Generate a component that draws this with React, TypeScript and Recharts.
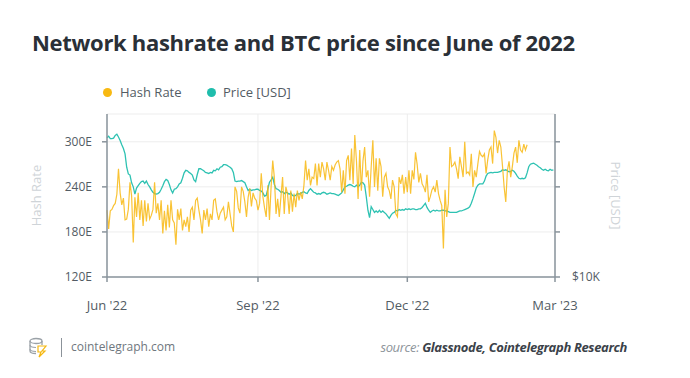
import { LineChart, Line, XAxis, YAxis, CartesianGrid, Label } from 'recharts';

// daily values, day 0 = 1 Jun 2022
const hashRate = [
  209, 184, 208, 210, 215, 218, 230, 264, 232, 216,
  225, 196, 197, 210, 246, 228, 166, 226, 200, 232,
  196, 222, 188, 222, 194, 218, 197, 202, 210, 246,
  205, 218, 196, 222, 178, 208, 182, 216, 186, 222,
  196, 192, 163, 210, 196, 211, 182, 196, 187, 200,
  180, 209, 213, 196, 222, 225, 209, 196, 178, 209,
  196, 211, 187, 204, 196, 222, 224, 207, 196, 205,
  209, 213, 196, 200, 220, 204, 188, 180, 240, 234,
  212, 205, 240, 234, 220, 200, 226, 238, 214, 232,
  225, 222, 209, 218, 258, 227, 212, 200, 242, 196,
  240, 275, 252, 204, 224, 200, 227, 253, 204, 240,
  231, 204, 235, 207, 231, 213, 235, 222, 233, 224,
  242, 275, 249, 264, 242, 253, 251, 271, 242, 271,
  253, 273, 264, 249, 273, 262, 249, 267, 262, 269,
  273, 275, 264, 233, 262, 231, 275, 282, 249, 291,
  244, 309, 275, 224, 289, 235, 275, 293, 253, 262,
  227, 267, 302, 240, 278, 235, 278, 267, 227, 253,
  258, 240, 235, 224, 249, 240, 204, 200, 253, 244,
  256, 231, 253, 233, 262, 231, 262, 250, 286, 270,
  246, 258, 244, 240, 233, 256, 220, 227, 236, 240,
  233, 249, 231, 222, 215, 158, 236, 200, 218, 293,
  267, 269, 273, 264, 251, 280, 267, 253, 300, 258,
  260, 256, 284, 240, 262, 253, 271, 287, 282, 280,
  284, 258, 276, 289, 293, 271, 315, 306, 285, 302,
  293, 268, 240, 220, 262, 274, 253, 267, 285, 293,
  272, 302, 289, 286, 297, 289, 296,
];

const price = [
  31000, 31400, 30800, 30800, 30900, 31600, 31900, 31200, 30300, 29300,
  28400, 27200, 24400, 23100, 22900, 21500, 20800, 19600, 20600, 21000,
  21400, 21700, 21800, 21400, 21800, 21200, 20800, 20300, 19900, 19700,
  19600, 19700, 19900, 20400, 21000, 21700, 22100, 21900, 21200, 20300,
  19800, 20400, 20500, 20800, 21300, 21500, 22300, 23300, 23800, 23700,
  23400, 23200, 22900, 22000, 21700, 23000, 24100, 24100, 23900, 23700,
  23400, 23300, 23200, 23400, 23300, 23800, 23700, 24100, 23900, 24400,
  24500, 24900, 24900, 24800, 24600, 24400, 24100, 23400, 21800, 21700,
  21800, 21800, 21900, 21700, 21500, 20800, 20200, 20400, 20200, 20300,
  20300, 20400, 20400, 20200, 20100, 19800, 19300, 19400, 20400, 21600,
  22000, 22500, 21200, 20500, 20400, 20200, 19900, 20000, 19700, 19900,
  19800, 19600, 19800, 19400, 19300, 19400, 19700, 19600, 19700, 19900,
  20000, 19800, 19700, 20200, 20500, 20200, 19900, 19800, 19600, 19700,
  19600, 19800, 19900, 19800, 19600, 19700, 19800, 19700, 19700, 19600,
  19500, 19400, 19600, 19800, 20300, 20800, 20900, 21100, 21200, 21100,
  20900, 20800, 21100, 20800, 21100, 21600, 21500, 21100, 19200, 17200,
  16200, 17700, 17300, 16900, 17100, 16900, 17200, 16900, 17100, 16900,
  16700, 16400, 16100, 16500, 16800, 16900, 17200, 17100, 17300, 17200,
  17300, 17200, 17400, 17300, 17400, 17300, 17400, 17400, 17300, 17300,
  17400, 17400, 17600, 17900, 18200, 17600, 17200, 16900, 17100, 17200,
  17100, 17200, 17100, 17100, 17200, 17200, 17100, 17100, 17000, 16900,
  16900, 16900, 16900, 16900, 17000, 17100, 17100, 17200, 17300, 17400,
  17500, 17700, 18200, 18900, 19700, 20600, 21100, 21300, 21300, 21300,
  21800, 22700, 23200, 23300, 23400, 23300, 23400, 23400, 23400, 23500,
  23600, 23900, 23800, 23900, 23700, 23500, 23600, 23800, 23600, 23200,
  22700, 22300, 22200, 22300, 22200, 22400, 23300, 24500, 25000, 25100,
  25200, 25000, 24800, 24500, 24300, 24000, 23800, 24000, 23800, 23700,
  24000, 23800, 23900,
];

const xTicks = [0, 92, 183, 273];
const xTickLabels = ["Jun '22", "Sep '22", "Dec '22", "Mar '23"];
const hashTicks = [120, 180, 240, 300];
const priceTicks = [10000, 14422, 20801, 30000];

const chartData = price.map((p, i) => ({ day: i, hash: hashRate[i], price: p }));

const AXIS = '#8a949c';
const TICK = { fill: '#535c64', fontSize: 12, fontFamily: 'Open Sans' };

const Logo = () => (
  <svg width="20" height="22" viewBox="0 0 20 22" style={{ position: 'absolute', left: 28, top: 336 }}>
    <ellipse cx="8" cy="5" rx="6" ry="2.5" fill="none" stroke="#9aa1a7" strokeWidth="1.3" />
    <path d="M2 5 v10 c0 1.4 2.7 2.5 6 2.5 M14 5 v4" fill="none" stroke="#9aa1a7" strokeWidth="1.3" />
    <path d="M2 9 c0 1.4 2.7 2.5 6 2.5 M2 13 c0 1.4 2.7 2.5 6 2.5" fill="none" stroke="#9aa1a7" strokeWidth="1.1" />
    <path d="M10 10 h8 l-4 5 h3 l-6 6 l2 -5 h-3 z" fill="none" stroke="#f5b70f" strokeWidth="1.2" />
  </svg>
);

export default function App() {
  return (
    <div
      style={{
        position: 'absolute',
        left: 0,
        top: 0,
        width: 690,
        height: 378,
        background: '#fff',
        fontFamily: '"Open Sans", sans-serif',
        overflow: 'hidden',
      }}
    >
      <div
        style={{
          position: 'absolute',
          left: 32,
          top: 31,
          fontSize: 22,
          lineHeight: '22px',
          fontWeight: 700,
          letterSpacing: -0.3,
          color: '#2a3037',
          whiteSpace: 'nowrap',
        }}
      >
        Network hashrate and BTC price since June of 2022
      </div>

      <span style={{ position: 'absolute', left: 102.5, top: 87.5, width: 9, height: 9, borderRadius: '50%', background: '#f8b912' }} />
      <span style={{ position: 'absolute', left: 120, top: 83, fontSize: 13, lineHeight: '18px', color: '#535c64' }}>Hash Rate</span>
      <span style={{ position: 'absolute', left: 206.5, top: 87.5, width: 9, height: 9, borderRadius: '50%', background: '#1fbdac' }} />
      <span style={{ position: 'absolute', left: 223, top: 83, fontSize: 13, lineHeight: '18px', color: '#535c64' }}>Price [USD]</span>

      <div style={{ position: 'absolute', left: 0, top: 0 }}>
        <LineChart width={690} height={378} data={chartData} margin={{ top: 114, right: 0, bottom: 0, left: 0 }}>
          <CartesianGrid yAxisId="hash" xAxisId="x" stroke="#ededed" strokeWidth={1} />
          <XAxis
            xAxisId="x"
            dataKey="day"
            type="number"
            domain={[0, 273]}
            ticks={xTicks}
            tickFormatter={(v: number) => xTickLabels[xTicks.indexOf(v)]}
            height={101}
            stroke={AXIS}
            strokeWidth={1.5}
            tickSize={5}
            tickMargin={19}
            tick={{ ...TICK, fontSize: 13 }}
            interval={0}
          />
          <YAxis
            yAxisId="hash"
            domain={[120, 337]}
            ticks={hashTicks}
            tickFormatter={(v: number) => `${v}E`}
            width={107}
            allowDataOverflow
            stroke={AXIS}
            strokeWidth={1.5}
            tickSize={5}
            tickMargin={10}
            tick={TICK}
            interval={0}
          >
            <Label value="Hash Rate" angle={-90} position="center" dx={-17} fill="#cfd4d8" fontSize={13} fontFamily="Open Sans" />
          </YAxis>
          <YAxis
            yAxisId="price"
            orientation="right"
            scale="log"
            domain={[10000, 37600]}
            ticks={priceTicks}
            tickFormatter={(v: number) => (v === 10000 ? '$10K' : '')}
            width={135}
            allowDataOverflow
            stroke={AXIS}
            strokeWidth={1.5}
            tickSize={5}
            tickMargin={12}
            tick={TICK}
            interval={0}
          >
            <Label value="Price [USD]" angle={90} position="center" dx={-7} fill="#cfd4d8" fontSize={13} fontFamily="Open Sans" />
          </YAxis>
          <Line
            xAxisId="x"
            yAxisId="price"
            type="linear"
            dataKey="price"
            stroke="#2ec2b2"
            strokeWidth={1.3}
            dot={false}
            activeDot={false}
            isAnimationActive={false}
          />
          <Line
            xAxisId="x"
            yAxisId="hash"
            type="linear"
            dataKey="hash"
            stroke="#f8b912"
            strokeOpacity={0.85}
            strokeWidth={1.2}
            dot={false}
            activeDot={false}
            isAnimationActive={false}
          />
        </LineChart>
      </div>

      <Logo />
      <div style={{ position: 'absolute', left: 60.5, top: 338, width: 1, height: 19, background: '#8b9299' }} />
      <span style={{ position: 'absolute', left: 71, top: 338, fontSize: 12, lineHeight: '18px', color: '#6f777e' }}>cointelegraph.com</span>
      <span
        style={{
          position: 'absolute',
          right: 63,
          top: 338,
          fontSize: 13,
          lineHeight: '18px',
          fontStyle: 'italic',
          letterSpacing: -0.35,
          whiteSpace: 'nowrap',
        }}
      >
        <span style={{ color: '#8d949a' }}>source: </span>
        <span style={{ color: '#3b4249', fontWeight: 700 }}>Glassnode, Cointelegraph Research</span>
      </span>
    </div>
  );
}
